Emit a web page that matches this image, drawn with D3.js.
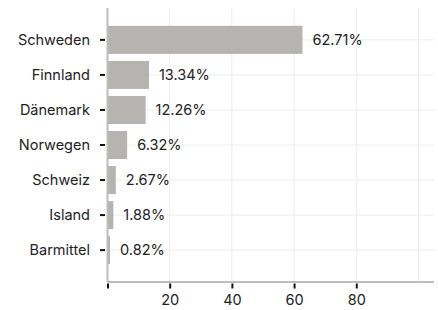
<!DOCTYPE html>
<html>
<head>
<meta charset="utf-8">
<script src="https://cdn.jsdelivr.net/npm/d3@7"></script>
<style>
  body { margin: 0; background: #fff; }
  text { font-family: Inter, "Noto Sans", sans-serif; }
</style>
</head>
<body>
<script>
// data
var countries = ["Schweden", "Finnland", "Dänemark", "Norwegen", "Schweiz", "Island", "Barmittel"];
var shares = [62.71, 13.34, 12.26, 6.32, 2.67, 1.88, 0.82];
var xTicks = [0, 20, 40, 60, 80];
var gridTicks = [0, 20, 40, 60, 80, 100];

var svg = d3.select("body").append("svg")
  .attr("width", 438)
  .attr("height", 310);

var plotLeft = 107.5, plotRight = 434, plotTop = 8, plotBottom = 282;
var fontSize = "14.5px";

var x = d3.scaleLinear().domain([0, 105]).range([plotLeft, plotRight]);
var y = d3.scaleBand().domain(countries).range([plotTop, plotBottom])
  .paddingInner(0.2).paddingOuter(0.51);

// grid
svg.append("g").selectAll("line")
  .data(gridTicks.slice(1))
  .join("line")
  .attr("x1", d => x(d)).attr("x2", d => x(d))
  .attr("y1", plotTop).attr("y2", plotBottom)
  .attr("stroke", "#ececec").attr("stroke-width", 1);

svg.append("g").selectAll("line")
  .data(countries)
  .join("line")
  .attr("x1", plotLeft).attr("x2", plotRight)
  .attr("y1", d => y(d) + y.bandwidth() / 2).attr("y2", d => y(d) + y.bandwidth() / 2)
  .attr("stroke", "#ececec").attr("stroke-width", 1);

// bars
svg.append("g").selectAll("rect")
  .data(countries)
  .join("rect")
  .attr("x", x(0))
  .attr("y", d => y(d))
  .attr("width", (d, i) => x(shares[i]) - x(0))
  .attr("height", y.bandwidth())
  .attr("fill", "#b5b4b0");

// value labels
svg.append("g").selectAll("text")
  .data(countries)
  .join("text")
  .attr("x", (d, i) => x(shares[i]) + 10)
  .attr("y", d => y(d) + y.bandwidth() / 2)
  .attr("dy", "0.35em")
  .style("font-size", fontSize)
  .attr("fill", "#222")
  .text((d, i) => shares[i].toFixed(2) + "%");

// axes
var xAxis = svg.append("g")
  .attr("transform", "translate(0," + (plotBottom + 1.5) + ")")
  .call(d3.axisBottom(x).tickValues(xTicks).tickSize(5).tickPadding(6).tickFormat(d => d === 0 ? "" : d));
xAxis.select(".domain").remove();
xAxis.selectAll(".tick line").attr("stroke", "#111").attr("stroke-width", 2);
xAxis.selectAll("text").style("font-size", fontSize).attr("fill", "#222");

var yAxis = svg.append("g")
  .attr("transform", "translate(" + (plotLeft - 2.5) + ",0)")
  .call(d3.axisLeft(y).tickSize(5).tickPadding(10));
yAxis.select(".domain").remove();
yAxis.selectAll(".tick line").attr("stroke", "#111").attr("stroke-width", 2);
yAxis.selectAll("text").style("font-size", fontSize).attr("fill", "#222");

// axis lines
svg.append("line")
  .attr("x1", plotLeft).attr("x2", plotLeft)
  .attr("y1", plotTop).attr("y2", plotBottom)
  .attr("stroke", "#bdbdbd").attr("stroke-width", 2);
svg.append("line")
  .attr("x1", plotLeft).attr("x2", plotRight)
  .attr("y1", plotBottom).attr("y2", plotBottom)
  .attr("stroke", "#bdbdbd").attr("stroke-width", 2);
</script>
</body>
</html>
